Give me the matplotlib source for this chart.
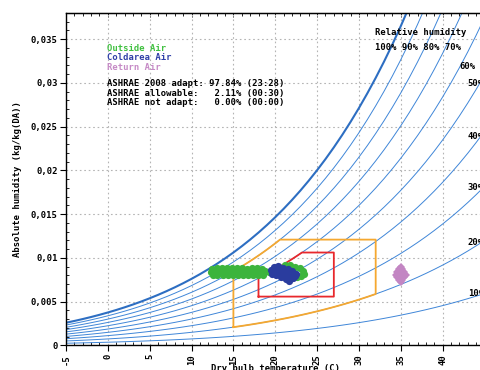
import numpy as np
import matplotlib
matplotlib.use("Agg")
import matplotlib.pyplot as plt
from matplotlib.ticker import MultipleLocator, FuncFormatter

P_ATM = 101325.0

# relative humidity curves drawn on the chart
rh_levels = [100, 90, 80, 70, 60, 50, 40, 30, 20, 10]

# ASHRAE 2008 envelopes
allowable_temp = (15.0, 32.0)
allowable_rh = (0.20, 0.80)
allowable_dewpoint = 17.0
recommended_temp = (18.0, 27.0)
recommended_dewpoint = (5.5, 15.0)
recommended_rh_max = 0.60

# measured points (dry bulb [C], absolute humidity [kg/kg(DA)])
outside_temp = [12.4, 13.0, 13.6, 14.2, 14.8, 15.4, 16.0, 16.6, 17.2, 17.8, 18.4,
                12.3, 12.8, 13.4, 14.0, 14.6, 15.2, 15.8, 16.4, 17.0, 17.6, 18.2, 18.8, 19.3,
                12.6, 13.1, 13.7, 14.3, 14.9, 15.5, 16.1, 16.7, 17.3, 17.9, 18.5,
                20.0, 20.6, 21.2, 21.8, 22.4, 22.9, 23.3, 23.4, 23.1, 22.6, 21.0]
outside_hum = [0.0087, 0.0088, 0.0088, 0.0088, 0.0089, 0.0088, 0.0088, 0.0087, 0.0088, 0.0088, 0.0087,
               0.0084, 0.0084, 0.0085, 0.0084, 0.0084, 0.0085, 0.0084, 0.0084, 0.0085, 0.0084, 0.0084, 0.0085, 0.0084,
               0.0080, 0.0080, 0.0080, 0.0080, 0.0080, 0.0080, 0.0080, 0.0080, 0.0080, 0.0081, 0.0081,
               0.0086, 0.0089, 0.0092, 0.0092, 0.0090, 0.0088, 0.0085, 0.0082, 0.0079, 0.0078, 0.0085]

coldarea_temp = [19.5, 19.6, 19.9, 20.0, 20.1, 20.3, 20.4, 20.5, 20.7, 20.9, 21.0, 21.1, 21.3,
                 21.5, 21.6, 21.7, 21.6, 22.0, 22.1, 22.1, 22.5, 22.4]
coldarea_hum = [0.0086, 0.0082, 0.0090, 0.0085, 0.0080, 0.0091, 0.0088, 0.0083, 0.0078, 0.0089,
                0.0085, 0.0080, 0.0076, 0.0087, 0.0083, 0.0078, 0.0074, 0.0085, 0.0081, 0.0077,
                0.0082, 0.0079]

return_temp = [35.0, 34.8, 35.2, 34.6, 35.0, 35.4, 34.4, 34.8, 35.2, 35.6, 34.6, 35.0, 35.4, 34.8, 35.2, 35.0]
return_hum = [0.0090, 0.0087, 0.0087, 0.0084, 0.0084, 0.0084, 0.0081, 0.0081, 0.0081, 0.0081,
              0.0078, 0.0078, 0.0078, 0.0075, 0.0075, 0.0072]

stats_lines = ["ASHRAE 2008 adapt: 97.84% (23:28)",
               "ASHRAE allowable:   2.11% (00:30)",
               "ASHRAE not adapt:   0.00% (00:00)"]

FONT = dict(family="DejaVu Sans Mono", weight="bold", size=6.4)
RH_COLOR = "#3f86d8"


def p_sat(t):
    return 610.94 * np.exp(17.625 * t / (t + 243.04))


def hum_ratio(t, rh):
    pw = rh * p_sat(t)
    return 0.622 * pw / (P_ATM - pw)


def temp_for_pw(pw):
    a = np.log(pw / 610.94)
    return 243.04 * a / (17.625 - a)


def dewpoint_hum(td):
    return hum_ratio(td, 1.0)


fig = plt.figure(figsize=(4.81, 3.70), dpi=100)
ax = fig.add_axes([0.13721, 0.06622, 0.87006, 0.89865])

# RH curves
t_grid = np.arange(-5.0, 46.0, 1.0)
for rh in rh_levels:
    w = hum_ratio(t_grid, rh / 100.0)
    if rh == 100:
        ax.plot(t_grid, w, color="#2d6ec2", lw=1.5, zorder=2)
    else:
        ax.plot(t_grid, w, color=RH_COLOR, lw=0.7, zorder=2)

# allowable envelope (orange)
t_lo, t_hi = allowable_temp
rh_lo, rh_hi = allowable_rh
w_dp = dewpoint_hum(allowable_dewpoint)
t_corner = temp_for_pw(p_sat(allowable_dewpoint) / rh_hi)
seg_80 = np.linspace(t_lo, t_corner, 12)
seg_20 = np.linspace(t_hi, t_lo, 20)
ox = [t_lo] + list(seg_80) + [t_hi, t_hi] + list(seg_20)
oy = [hum_ratio(t_lo, rh_lo)] + list(hum_ratio(seg_80, rh_hi)) + [w_dp, hum_ratio(t_hi, rh_lo)] + list(hum_ratio(seg_20, rh_lo))
ax.plot(ox, oy, color="#f5a830", lw=1.3, zorder=3)

# recommended envelope (red)
r_lo, r_hi = recommended_temp
w_bot = dewpoint_hum(recommended_dewpoint[0])
w_top = dewpoint_hum(recommended_dewpoint[1])
t_knee = temp_for_pw(p_sat(recommended_dewpoint[1]) / recommended_rh_max)
seg_60 = np.linspace(t_knee, r_lo, 10)
rx = [r_lo, r_hi, r_hi] + list(seg_60) + [r_lo]
ry = [w_bot, w_bot, w_top] + list(hum_ratio(seg_60, recommended_rh_max)) + [w_bot]
ax.plot(rx, ry, color="#e8282c", lw=1.3, zorder=3)

# measured clouds
ax.plot(outside_temp, outside_hum, "o", color="#3cb43c", ms=5.2, mew=0, zorder=4)
ax.plot(coldarea_temp, coldarea_hum, "o", color="#2a3c9e", ms=5.2, mew=0, zorder=5)
ax.plot(return_temp, return_hum, "D", color="#c386c3", ms=3.6, mew=0, zorder=5)

ax.set_xlim(-5, 45)
ax.set_ylim(0, 0.038)

ax.xaxis.set_major_locator(MultipleLocator(5))
ax.xaxis.set_minor_locator(MultipleLocator(1))
ax.yaxis.set_major_locator(MultipleLocator(0.005))
ax.yaxis.set_minor_locator(MultipleLocator(0.001))
ax.yaxis.set_major_formatter(FuncFormatter(lambda v, p: "{:g}".format(round(v, 4)).replace(".", ",")))
ax.xaxis.set_major_formatter(FuncFormatter(lambda v, p: "{:g}".format(v) if v < 42 else ""))

ax.tick_params(which="major", direction="out", length=4, width=0.8, pad=2)
ax.tick_params(which="minor", direction="in", length=2.5, width=0.6)
ax.tick_params(axis="x", which="major", labelrotation=90)
for lab in ax.get_xticklabels() + ax.get_yticklabels():
    lab.set_fontfamily(FONT["family"])
    lab.set_fontweight(FONT["weight"])
    lab.set_fontsize(FONT["size"])

top = ax.secondary_xaxis("top")
top.xaxis.set_major_locator(MultipleLocator(5))
top.xaxis.set_minor_locator(MultipleLocator(1))
top.tick_params(which="both", direction="in", labeltop=False, length=3, width=0.6)
top.tick_params(which="minor", length=2.5)

ax.spines["right"].set_visible(False)
for s in ax.spines.values():
    s.set_linewidth(1.0)

ax.grid(True, which="major", color="#b4b4b4", linestyle=(0, (1.5, 2.5)), lw=0.8)
ax.set_axisbelow(True)

ax.set_xlabel("Dry bulb temperature (C)", va="center", **FONT)
ax.xaxis.set_label_coords(0.5, -0.068)
ax.set_ylabel("Absolute humidity (kg/kg(DA))", va="center", **FONT)
ax.yaxis.set_label_coords(-0.1147, 0.5)

# legend-like texts
ax.text(-0.1, 0.0339, "Outside Air", color="#40c040", va="center", **FONT)
ax.text(-0.1, 0.0329, "Coldarea Air", color="#3040a8", va="center", **FONT)
ax.text(-0.1, 0.0318, "Return Air", color="#c68ac6", va="center", **FONT)
for i, line in enumerate(stats_lines):
    ax.text(-0.1, 0.0299 - i * 0.00105, line, color="black", va="center", **FONT)

ax.text(31.9, 0.0358, "Relative humidity", va="center", **FONT)
ax.text(31.9, 0.0340, "100% 90% 80% 70%", va="center", **FONT)
ax.text(41.95, 0.0319, "60%", va="center", **FONT)
ax.text(43.0, 0.0299, "50%", va="center", **FONT)
ax.text(43.0, 0.0239, "40%", va="center", **FONT)
ax.text(43.0, 0.0180, "30%", va="center", **FONT)
ax.text(43.0, 0.0118, "20%", va="center", **FONT)
ax.text(43.0, 0.0059, "10%", va="center", **FONT)

fig.savefig("out.png", dpi=100)
